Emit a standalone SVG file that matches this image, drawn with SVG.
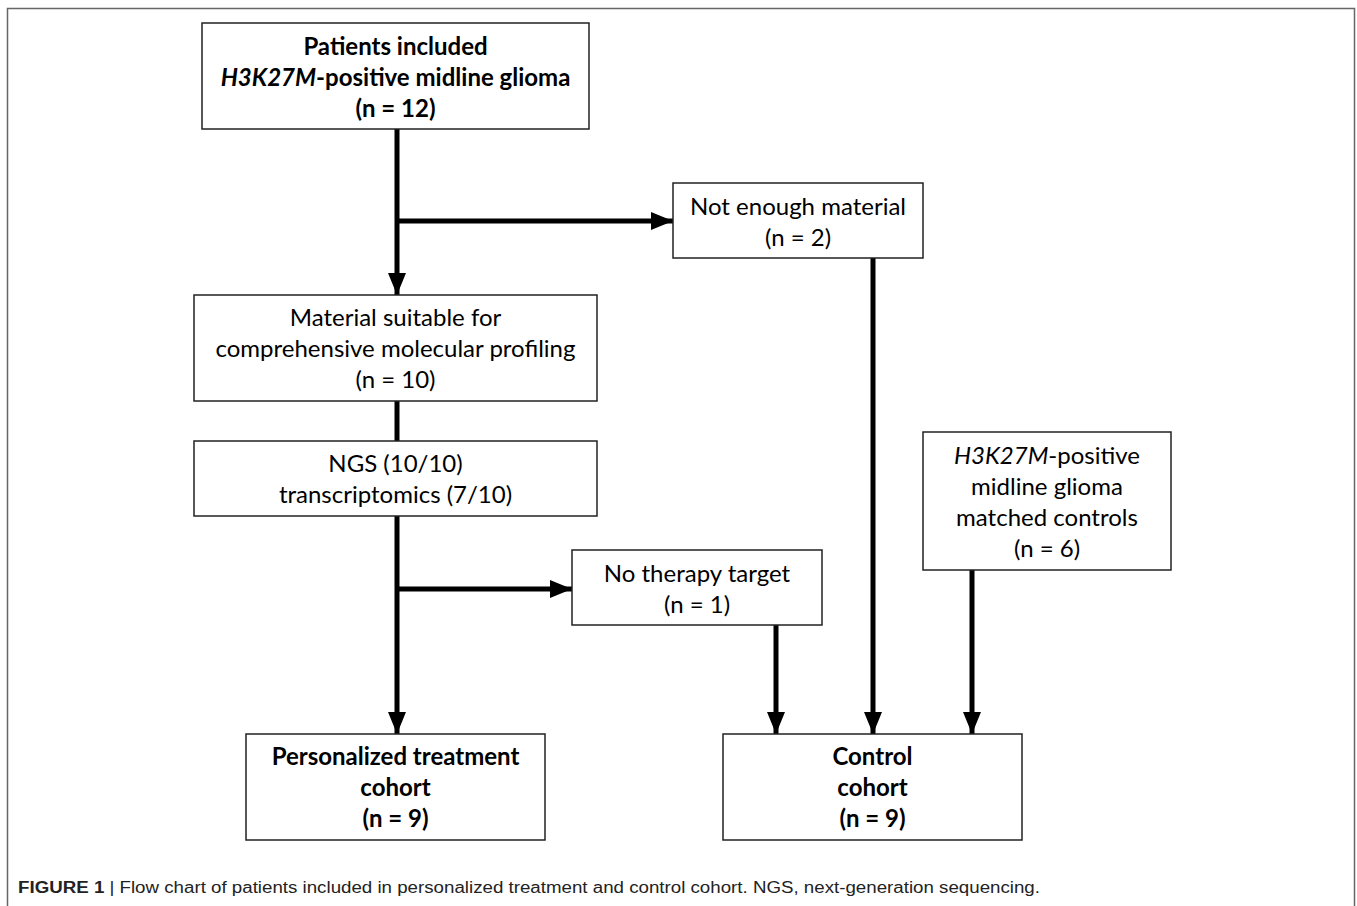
<svg xmlns="http://www.w3.org/2000/svg" width="1357" height="906" viewBox="0 0 1357 906">
<style>
.box{fill:#fff;stroke:#222;stroke-width:1.5}
.t{font-family:Lato,"Open Sans",sans-serif;font-size:24px;fill:#000;text-anchor:middle}
.b{font-weight:bold}
.c{stroke:#000;stroke-width:5;fill:none}
.cap{font-family:"Liberation Sans",Arial,sans-serif;font-size:16px;fill:#222}
</style>
<defs>
<marker id="ah" markerUnits="userSpaceOnUse" markerWidth="22" markerHeight="18" refX="22" refY="9" orient="auto">
<path d="M0,0 L22,9 L0,18 Z" fill="#000"/>
</marker>
</defs>
<rect x="0" y="0" width="1357" height="906" fill="#fff"/>
<path d="M7.5,906 V8.5 H1354.5 V906" fill="none" stroke="#666" stroke-width="1.5"/>
<g id="connectors">
<line class="c" x1="397" y1="129" x2="397" y2="295" marker-end="url(#ah)"/>
<line class="c" x1="397" y1="221" x2="673" y2="221" marker-end="url(#ah)"/>
<line class="c" x1="397" y1="401" x2="397" y2="441"/>
<line class="c" x1="397" y1="516" x2="397" y2="734" marker-end="url(#ah)"/>
<line class="c" x1="397" y1="589" x2="572" y2="589" marker-end="url(#ah)"/>
<line class="c" x1="873" y1="258" x2="873" y2="734" marker-end="url(#ah)"/>
<line class="c" x1="776" y1="625" x2="776" y2="734" marker-end="url(#ah)"/>
<line class="c" x1="972" y1="570" x2="972" y2="734" marker-end="url(#ah)"/>
</g>
<g id="patients">
<rect class="box" x="202" y="23" width="387" height="106"/>
<text class="t b" x="395.5" y="55">Patients included</text>
<text class="t b" x="395.5" y="86"><tspan font-style="italic">H3K27M</tspan>-positive midline glioma</text>
<text class="t b" x="395.5" y="117">(n = 12)</text>
</g>
<g id="not-enough">
<rect class="box" x="673" y="183" width="250" height="75"/>
<text class="t" x="798" y="215">Not enough material</text>
<text class="t" x="798" y="246">(n = 2)</text>
</g>
<g id="material">
<rect class="box" x="194" y="295" width="403" height="106"/>
<text class="t" x="395.5" y="326">Material suitable for</text>
<text class="t" x="395.5" y="357">comprehensive molecular profiling</text>
<text class="t" x="395.5" y="388">(n = 10)</text>
</g>
<g id="ngs">
<rect class="box" x="194" y="441" width="403" height="75"/>
<text class="t" x="395.5" y="472">NGS (10/10)</text>
<text class="t" x="395.5" y="503">transcriptomics (7/10)</text>
</g>
<g id="no-target">
<rect class="box" x="572" y="550" width="250" height="75"/>
<text class="t" x="697" y="582">No therapy target</text>
<text class="t" x="697" y="613">(n = 1)</text>
</g>
<g id="matched">
<rect class="box" x="923" y="432" width="248" height="138"/>
<text class="t" x="1047" y="464"><tspan font-style="italic">H3K27M</tspan>-positive</text>
<text class="t" x="1047" y="495">midline glioma</text>
<text class="t" x="1047" y="526">matched controls</text>
<text class="t" x="1047" y="557">(n = 6)</text>
</g>
<g id="personalized">
<rect class="box" x="246" y="734" width="299" height="106"/>
<text class="t b" x="395.5" y="765">Personalized treatment</text>
<text class="t b" x="395.5" y="796">cohort</text>
<text class="t b" x="395.5" y="827">(n = 9)</text>
</g>
<g id="control">
<rect class="box" x="723" y="734" width="299" height="106"/>
<text class="t b" x="872.5" y="765">Control</text>
<text class="t b" x="872.5" y="796">cohort</text>
<text class="t b" x="872.5" y="827">(n = 9)</text>
</g>
<text class="cap" x="18" y="893" textLength="1022" lengthAdjust="spacingAndGlyphs"><tspan font-weight="bold">FIGURE 1</tspan> | Flow chart of patients included in personalized treatment and control cohort. NGS, next-generation sequencing.</text>
</svg>
